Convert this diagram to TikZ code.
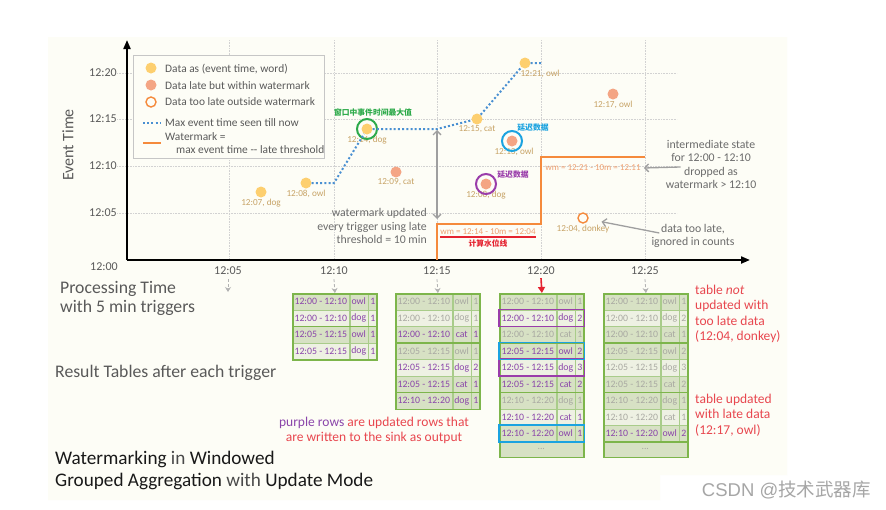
\documentclass[tikz,border=0pt]{standalone}
\usepackage{fontspec}
\setmainfont{Carlito}
\newfontfamily\cjk{Noto Sans CJK SC}
\newfontfamily\wmfont{Liberation Sans}
\usetikzlibrary{positioning, arrows.meta}

\definecolor{paper}{HTML}{FDFDF6}
\definecolor{gridgray}{HTML}{D2D2D2}
\definecolor{txtgray}{HTML}{595959}
\definecolor{titlegray}{HTML}{4A4A4A}
\definecolor{anngray}{HTML}{6B6B6B}
\definecolor{dotyel}{HTML}{FDCF6F}
\definecolor{dotsal}{HTML}{F4A584}
\definecolor{wmorange}{HTML}{F58A3C}
\definecolor{wmtext}{HTML}{EE9F70}
\definecolor{maxblue}{HTML}{4A90D2}
\definecolor{lbltan}{HTML}{C7A366}
\definecolor{cgreen}{HTML}{2DAA4A}
\definecolor{cblue}{HTML}{1BA3E0}
\definecolor{cpurple}{HTML}{9A3DAA}
\definecolor{notered}{HTML}{E8474F}
\definecolor{calcred}{HTML}{E52330}
\definecolor{tgreen}{HTML}{7DB54B}
\definecolor{tinner}{HTML}{A9CC8A}
\definecolor{rowdk}{HTML}{D7E1C4}
\definecolor{rowlt}{HTML}{EEF1E3}
\definecolor{rownew}{HTML}{8A45AA}
\definecolor{rowold}{HTML}{A9A9A2}

\begin{document}
\begin{tikzpicture}[x=1pt, y=-1pt,
  evdot/.style={circle, fill=dotyel, inner sep=0pt, minimum size=11pt},
  latedot/.style={evdot, fill=dotsal},
  lostdot/.style={circle, draw=wmorange, fill=paper, line width=1.4pt, inner sep=0pt, minimum size=10pt},
  ring/.style={circle, line width=2pt, inner sep=0pt, minimum size=20pt},
  dlabel/.style={text=lbltan, font=\fontsize{9.2}{10}\selectfont, inner sep=0pt},
  cnote/.style={font=\cjk\bfseries\fontsize{7.8}{9}\selectfont, inner sep=0pt},
  ticklbl/.style={text=txtgray, font=\fontsize{12}{13}\selectfont, inner sep=0pt},
  legtxt/.style={text=txtgray, font=\fontsize{11.4}{13}\selectfont, inner sep=0pt, anchor=west, align=left},
  ann/.style={text=anngray, font=\fontsize{11.8}{13.4}\selectfont, align=center, inner sep=0pt},
  annarrow/.style={draw=gray!75, line width=1.3pt, -{Straight Barb[length=4pt, width=8pt]}},
  rednote/.style={text=notered, font=\fontsize{13.5}{15.3}\selectfont, align=left, inner sep=0pt, anchor=north west},
  bigtxt/.style={text=txtgray, font=\fontsize{17.7}{19}\selectfont, align=left, inner sep=0pt, anchor=west},
  wmlbl/.style={text=wmtext, font=\fontsize{9}{10}\selectfont, inner sep=0pt},
  gridline/.style={gridgray, densely dotted, line width=0.6pt},
  axisline/.style={line width=2pt, -{Triangle[length=9pt, width=7pt]}},
  maxline/.style={maxblue, line width=2pt, dash pattern=on 2pt off 2.2pt},
  wmline/.style={wmorange, line width=2.5pt},
  cell/.style={draw=tinner, line width=0.5pt, inner sep=0pt, minimum height=16.5pt, anchor=north west, font=\fontsize{9.8}{10}\selectfont},
  wincell/.style={cell, minimum width=57pt},
  wordcell/.style={cell, minimum width=18pt},
  numcell/.style={cell, minimum width=9pt},
  rowd/.style={fill=rowdk}, rowl/.style={fill=rowlt},
  upd/.style={text=rownew}, stale/.style={text=rowold},
  tabframe/.style={draw=tgreen, line width=1.8pt, inner sep=0pt, anchor=north west, minimum width=84pt},
  grpline/.style={tgreen, line width=1.8pt},
  hibox/.style={line width=1.8pt},
  trig/.style={gray!60, densely dashed, line width=0.8pt, -{Stealth[length=5pt, width=6pt]}},
  trigred/.style={calcred, line width=1.6pt, -{Triangle[length=6pt, width=7pt]}}]

  \useasboundingbox (0,0) rectangle (886,509);
  \fill[white] (0,0) rectangle (886,509);
  \fill[paper] (48,37) -- (787,37) -- (787,475) -- (660,475) -- (660,500) -- (48,500) -- cycle;

  % grid
  \foreach \gx in {229,334,437,541,645}
    \draw[gridline] (\gx,40) -- (\gx,260);
  \foreach \gy in {73,119,166,213}
    \draw[gridline] (117,\gy) -- (677,\gy);

  % axes
  \coordinate (origin) at (127,260);
  \draw[axisline] (origin) -- (127,40);
  \draw[axisline] (origin) -- (750,260);
  \node[rotate=90, text=txtgray, font=\fontsize{16}{18}\selectfont] (evtime) at (68,145) {Event Time};

  % tick labels
  \node[ticklbl] (tk00) at (104,267) {12:00};
  \node[ticklbl] (ty05) at (103,213) {12:05};
  \node[ticklbl] (ty10) at (103,166) {12:10};
  \node[ticklbl] (ty15) at (103,119) {12:15};
  \node[ticklbl] (ty20) at (103,73) {12:20};
  \node[ticklbl] (tk05) at (228,271) {12:05};
  \node[ticklbl] (tk10) at (334,271) {12:10};
  \node[ticklbl] (tk15) at (437,271) {12:15};
  \node[ticklbl] (tk20) at (541,271) {12:20};
  \node[ticklbl] (tk25) at (645,271) {12:25};

  % legend
  \node[draw=gray!45, line width=0.8pt, fill=paper, minimum width=191pt, minimum height=103pt, anchor=north west] (legend) at (133,55) {};
  \node[evdot] (lgA) at (151,68) {};
  \node[legtxt] (lgAt) at (165,69) {Data as (event time, word)};
  \node[latedot] (lgB) at (151,85) {};
  \node[legtxt] (lgBt) at (165,86) {Data late but within watermark};
  \node[lostdot] (lgC) at (151,102) {};
  \node[legtxt] (lgCt) at (165,102) {Data too late outside watermark};
  \draw[maxline] (143,123) -- (161,123);
  \node[legtxt] (lgDt) at (165,123) {Max event time seen till now};
  \draw[wmline, line width=2pt] (143,143) -- (161,143);
  \node[legtxt] (lgEt) at (165,137) {Watermark =};
  \node[legtxt] (lgFt) at (176,150) {max event time -{}- late threshold};

  % watermark steps
  \coordinate (wmA) at (437,260);
  \coordinate (wmB) at (437,224);
  \coordinate (wmC) at (541,224);
  \coordinate (wmD) at (541,157);
  \coordinate (wmE) at (645,157);
  \draw[wmline] (wmA) -- (wmB) -- (wmC) -- (wmD) -- (wmE);
  \node[wmlbl] (wm1) at (488,232) {wm = 12:14 - 10m = 12:04};
  \node[wmlbl] (wm2) at (593,168) {wm = 12:21 - 10m = 12:11};
  \draw[calcred, line width=2pt] ([yshift=-1.5pt]wm1.south west) -- ([yshift=-1.5pt]wm1.south east);
  \node[cnote, text=calcred, below=4pt of wm1] (calc) {计算水位线};

  % data points
  \node[evdot] (dog07) at (261,192) {};
  \node[evdot] (owl08) at (306,183) {};
  \node[latedot] (cat09) at (396,172) {};
  \node[evdot] (dog14) at (367,129) {};
  \node[evdot] (cat15) at (477,119) {};
  \node[evdot] (owl21) at (525,63) {};
  \node[latedot] (owl13) at (512,141) {};
  \node[latedot] (dog08) at (486,184) {};
  \node[latedot] (owl17) at (613,94) {};
  \node[lostdot] (donkey) at (583,218) {};
  \node[dlabel, below=1pt of dog07] (ldog07) {12:07, dog};
  \node[dlabel, below=1pt of owl08] (lowl08) {12:08, owl};
  \node[dlabel, below=1pt of cat09] (lcat09) {12:09, cat};
  \node[dlabel, below=1pt of dog14] (ldog14) {12:14, dog};
  \node[dlabel, below=1pt of cat15] (lcat15) {12:15, cat};
  \node[dlabel, below=1pt of owl21, xshift=15pt] (lowl21) {12:21, owl};
  \node[dlabel, below=1pt of owl13, xshift=2pt] (lowl13) {12:13, owl};
  \node[dlabel, below=1pt of dog08] (ldog08) {12:08, dog};
  \node[dlabel, below=1pt of owl17] (lowl17) {12:17, owl};
  \node[dlabel, below=1pt of donkey] (ldonkey) {12:04, donkey};

  % highlighted points
  \node[ring, draw=cgreen] (ringG) at (dog14) {};
  \node[ring, draw=cblue] (ringB) at (owl13) {};
  \node[ring, draw=cpurple] (ringP) at (dog08) {};
  \node[cnote, text=cgreen] (cmax) at (373,113) {窗口中事件时间最大值};
  \node[cnote, text=cblue] (clateB) at (533,128) {延迟数据};
  \node[cnote, text=cpurple] (clateP) at (513,175) {延迟数据};

  % max event time
  \coordinate (m10) at (334,183);
  \coordinate (m15) at (437,129);
  \coordinate (m20) at (541,63);
  \draw[maxline] (owl08) -- (m10) -- (dog14) -- (m15) -- (cat15) -- (owl21) -- (m20);

  % annotations
  \draw[annarrow, {Straight Barb[length=4pt, width=8pt]}-{Straight Barb[length=4pt, width=8pt]}, shorten <=1pt, shorten >=5pt] (m15) -- (wmB);
  \node[ann, align=right, anchor=east] (wmupd) at (427,226) {watermark updated\\every trigger using late\\threshold = 10 min};
  \node[ann] (interm) at (711,164.5) {intermediate state\\for 12:00 - 12:10\\dropped as\\watermark > 12:10};
  \node[ann] (toolate) at (693,236) {data too late,\\ignored in counts};
  \draw[annarrow] ([xshift=15pt, yshift=-2.5pt]interm.west) -- ([xshift=3pt]wm2.east);
  \draw[annarrow] ([xshift=8pt, yshift=-9pt]toolate.north west) -- ([xshift=-8pt, yshift=3pt]ldonkey.north east);

  % left texts
  \node[bigtxt] (ptime) at (60,298) {Processing Time\\with 5 min triggers};
  \node[bigtxt] (restab) at (55,373) {Result Tables after each trigger};
  \node[bigtxt, text=black!90, font=\fontsize{19.2}{22}\selectfont] (title) at (55,470)
    {Watermarking \textcolor{titlegray}{in} Windowed\\Grouped Aggregation \textcolor{titlegray}{with} Update Mode};

  % result table after 12:10
  \foreach \i/\win/\word/\num/\tc/\fc in {
    1/12:00 - 12:10/owl/1/upd/rowd, 2/12:00 - 12:10/dog/1/upd/rowl,
    3/12:05 - 12:15/owl/1/upd/rowd, 4/12:05 - 12:15/dog/1/upd/rowl}{
    \node[wincell, \fc, \tc] (t1a-\i) at (292, {293+(\i-1)*16.5}) {\win};
    \node[wordcell, \fc, \tc, right=0pt of t1a-\i] (t1b-\i) {\word};
    \node[numcell, \fc, \tc, right=0pt of t1b-\i] (t1c-\i) {\num};
  }
  \draw[grpline] (t1a-2.south west) -- (t1c-2.south east);
  \node[tabframe, minimum height=66pt] (tab1) at (292,293) {};

  % result table after 12:15
  \foreach \i/\win/\word/\num/\tc/\fc in {
    1/12:00 - 12:10/owl/1/stale/rowd, 2/12:00 - 12:10/dog/1/stale/rowl,
    3/12:00 - 12:10/cat/1/upd/rowd, 4/12:05 - 12:15/owl/1/stale/rowd,
    5/12:05 - 12:15/dog/2/upd/rowl, 6/12:05 - 12:15/cat/1/upd/rowd,
    7/12:10 - 12:20/dog/1/upd/rowd}{
    \node[wincell, \fc, \tc] (t2a-\i) at (395, {293+(\i-1)*16.5}) {\win};
    \node[wordcell, \fc, \tc, right=0pt of t2a-\i] (t2b-\i) {\word};
    \node[numcell, \fc, \tc, right=0pt of t2b-\i] (t2c-\i) {\num};
  }
  \draw[grpline] (t2a-3.south west) -- (t2c-3.south east);
  \draw[grpline] (t2a-6.south west) -- (t2c-6.south east);
  \node[tabframe, minimum height=115.5pt] (tab2) at (395,293) {};

  % result table after 12:20
  \foreach \i/\win/\word/\num/\tc/\fc in {
    1/12:00 - 12:10/owl/1/stale/rowd, 2/12:00 - 12:10/dog/2/upd/rowl,
    3/12:00 - 12:10/cat/1/stale/rowd, 4/12:05 - 12:15/owl/2/upd/rowd,
    5/12:05 - 12:15/dog/3/upd/rowl, 6/12:05 - 12:15/cat/2/upd/rowd,
    7/12:10 - 12:20/dog/1/stale/rowd, 8/12:10 - 12:20/cat/1/upd/rowl,
    9/12:10 - 12:20/owl/1/upd/rowd}{
    \node[wincell, \fc, \tc] (t3a-\i) at (499, {293+(\i-1)*16.5}) {\win};
    \node[wordcell, \fc, \tc, right=0pt of t3a-\i] (t3b-\i) {\word};
    \node[numcell, \fc, \tc, right=0pt of t3b-\i] (t3c-\i) {\num};
  }
  \node[cell, rowd, stale, minimum width=84pt, minimum height=15pt] (t3dots) at (499,441.5) {...};
  \draw[grpline] (t3a-3.south west) -- (t3c-3.south east);
  \draw[grpline] (t3a-6.south west) -- (t3c-6.south east);
  \draw[grpline] (t3a-9.south west) -- (t3c-9.south east);
  \node[tabframe, minimum height=163.5pt] (tab3) at (499,293) {};
  \draw[hibox, cpurple] (t3a-2.north west) rectangle (t3c-2.south east);
  \draw[hibox, cpurple] (t3a-5.north west) rectangle (t3c-5.south east);
  \draw[hibox, cblue] (t3a-4.north west) rectangle (t3c-4.south east);
  \draw[hibox, cblue] (t3a-9.north west) rectangle (t3c-9.south east);

  % result table after 12:25
  \foreach \i/\win/\word/\num/\tc/\fc in {
    1/12:00 - 12:10/owl/1/stale/rowd, 2/12:00 - 12:10/dog/2/stale/rowl,
    3/12:00 - 12:10/cat/1/stale/rowd, 4/12:05 - 12:15/owl/2/stale/rowd,
    5/12:05 - 12:15/dog/3/stale/rowl, 6/12:05 - 12:15/cat/2/stale/rowd,
    7/12:10 - 12:20/dog/1/stale/rowd, 8/12:10 - 12:20/cat/1/stale/rowl,
    9/12:10 - 12:20/owl/2/upd/rowd}{
    \node[wincell, \fc, \tc] (t4a-\i) at (603, {293+(\i-1)*16.5}) {\win};
    \node[wordcell, \fc, \tc, right=0pt of t4a-\i] (t4b-\i) {\word};
    \node[numcell, \fc, \tc, right=0pt of t4b-\i] (t4c-\i) {\num};
  }
  \node[cell, rowd, stale, minimum width=84pt, minimum height=15pt] (t4dots) at (603,441.5) {...};
  \draw[grpline] (t4a-3.south west) -- (t4c-3.south east);
  \draw[grpline] (t4a-6.south west) -- (t4c-6.south east);
  \draw[grpline] (t4a-9.south west) -- (t4c-9.south east);
  \node[tabframe, minimum height=163.5pt] (tab4) at (603,293) {};

  % triggers
  \coordinate (trg05) at (228,292);
  \draw[trig] ([yshift=-4pt]tk05.south) -- (trg05);
  \draw[trig] ([yshift=-4pt]tk10.south) -- (tab1.north);
  \draw[trig] ([yshift=-4pt]tk15.south) -- (tab2.north);
  \draw[trigred] ([yshift=-3pt]tk20.south) -- (tab3.north);
  \draw[trig] ([yshift=-4pt]tk25.south) -- (tab4.north);

  % notes
  \node[rednote] (noteA) at (695,285) {table \textit{not}\\updated with\\too late data\\(12:04, donkey)};
  \node[rednote] (noteB) at (695,394) {table updated\\with late data\\(12:17, owl)};
  \node[text=notered, font=\fontsize{13.5}{15}\selectfont, align=center, inner sep=0pt] (purpnote) at (374,430)
    {\textcolor{rownew}{purple rows} are updated rows that\\are written to the sink as output};
  \node[text=gray!70, font=\wmfont\fontsize{18.5}{20}\selectfont, anchor=east, inner sep=0pt] (csdn) at (871,490) {CSDN @{\cjk 技术武器库}};
\end{tikzpicture}
\end{document}
